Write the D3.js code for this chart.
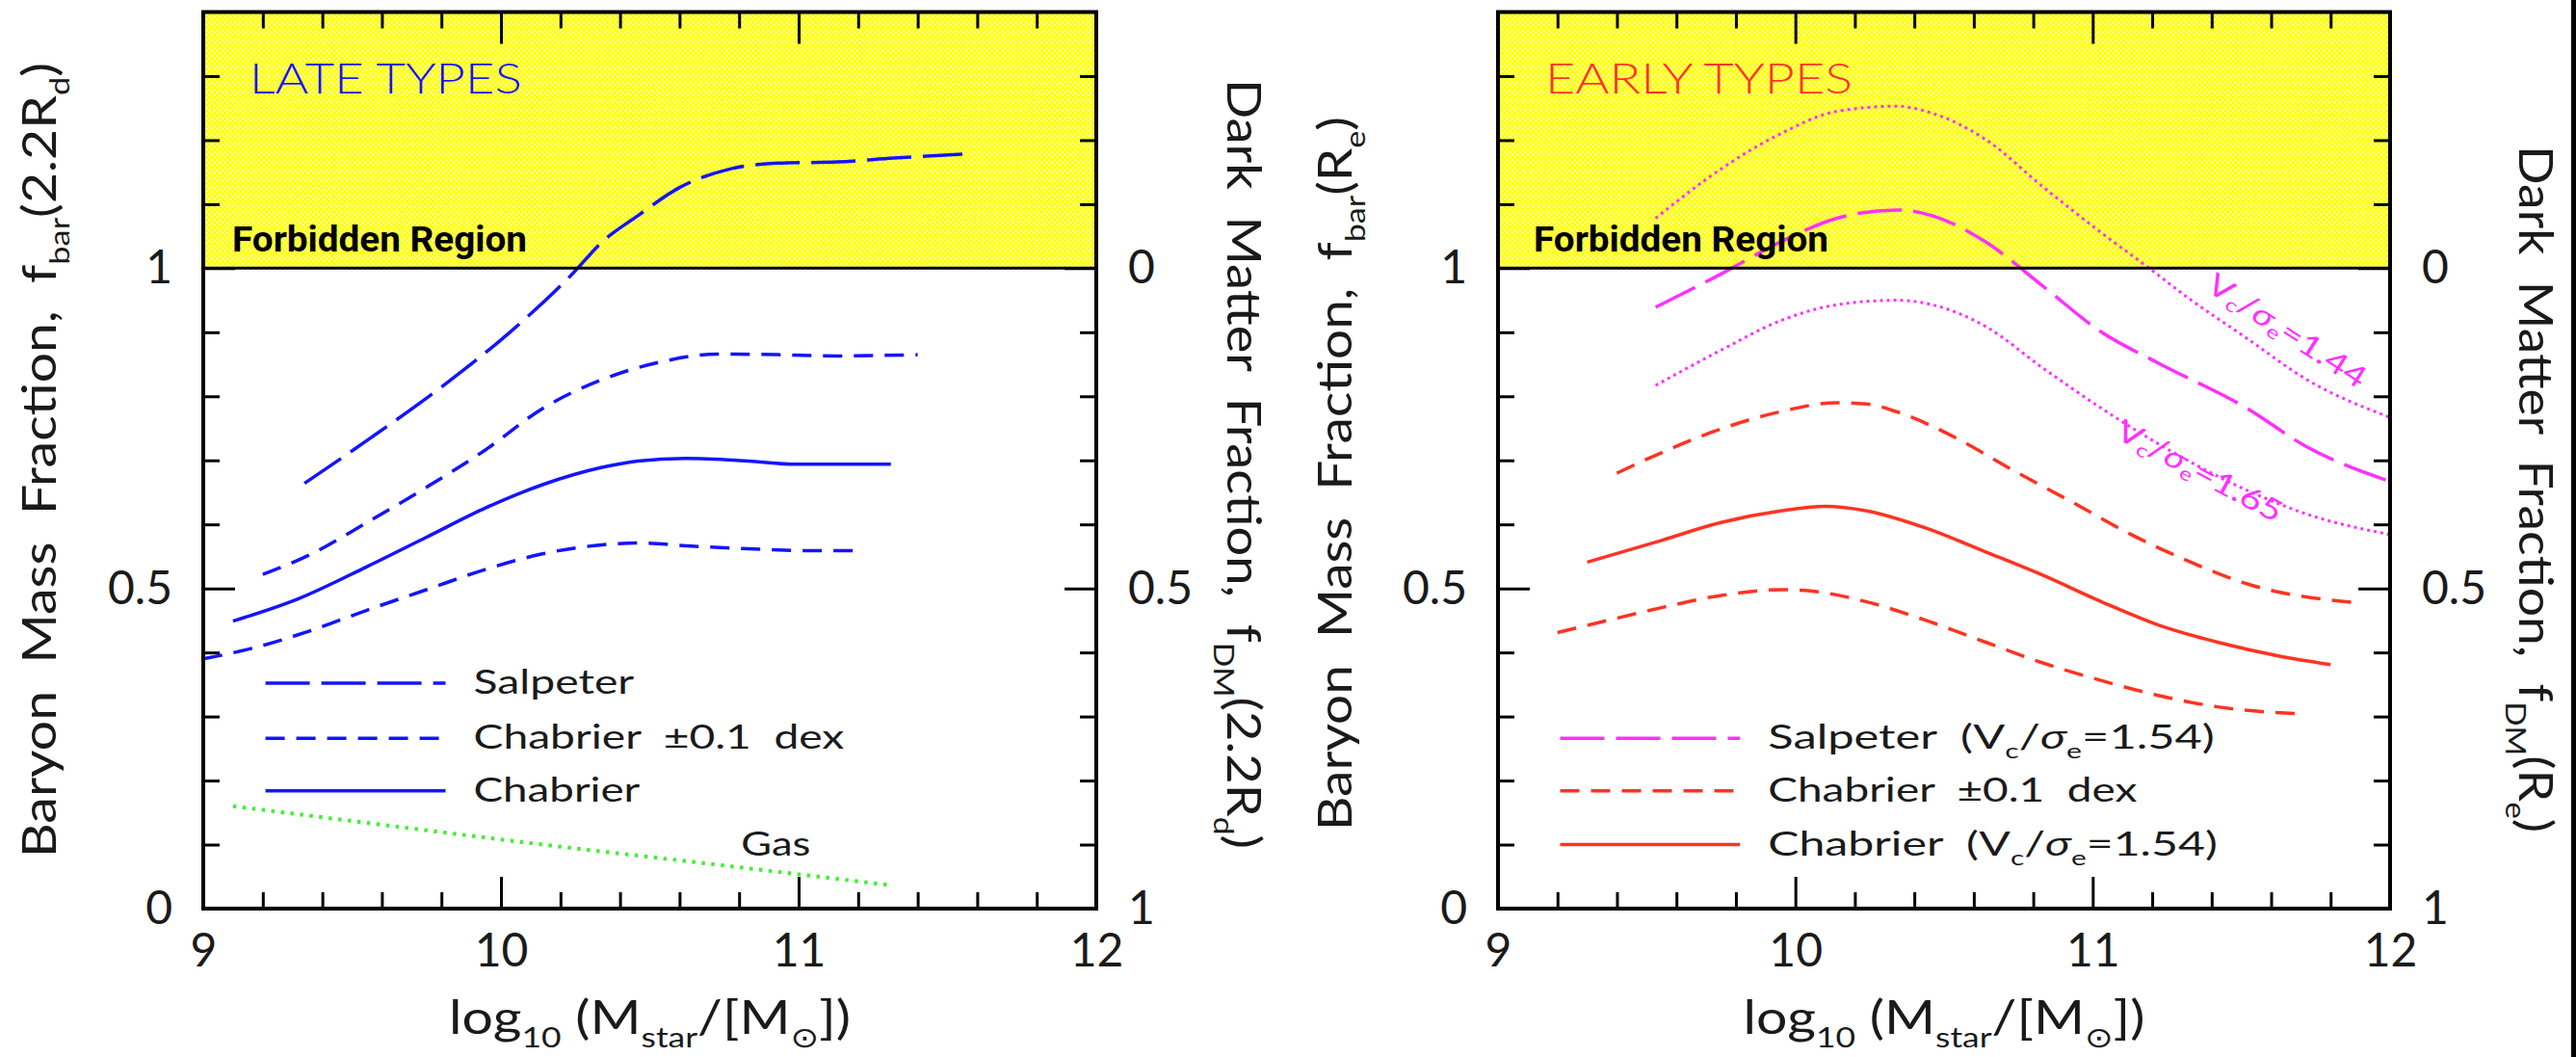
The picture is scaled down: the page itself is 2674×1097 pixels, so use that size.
<!DOCTYPE html>
<html><head><meta charset="utf-8">
<script src="https://cdn.jsdelivr.net/npm/d3@7"></script>
<style>
html,body{margin:0;padding:0;background:#fff;}
svg{display:block;}
</style></head><body>
<svg id="fig" width="2674" height="1097"></svg>
<script>
// ---------- axis ticks and labels ----------
const xTickMajor = [9, 10, 11, 12];
const xTickLabels = ["9", "10", "11", "12"];
const xTickMinor = [9.2, 9.4, 9.6, 9.8, 10.2, 10.4, 10.6, 10.8, 11.2, 11.4, 11.6, 11.8];
const yBarMajor = [0, 0.5, 1];
const yBarLabels = ["0", "0.5", "1"];
const yBarMinor = [0.1, 0.2, 0.3, 0.4, 0.6, 0.7, 0.8, 0.9, 1.1, 1.2, 1.3];
const yDMMajor = [1, 0.5, 0];
const yDMLabels = ["1", "0.5", "0"];

// ---------- late types: baryon fraction at 2.2 Rd vs log stellar mass ----------
const lateSalpeter = [[9.34,0.664],[9.55,0.731],[9.81,0.818],[10.03,0.900],[10.24,0.991],[10.34,1.041],[10.46,1.082],[10.6,1.126],[10.77,1.155],[10.93,1.164],[11.13,1.166],[11.32,1.172],[11.55,1.178]];
const lateChabrierHi = [[9.2,0.522],[9.36,0.553],[9.55,0.603],[9.75,0.658],[9.95,0.717],[10.14,0.781],[10.34,0.826],[10.54,0.854],[10.73,0.866],[10.93,0.865],[11.13,0.863],[11.4,0.865]];
const lateChabrier = [[9.1,0.449],[9.32,0.484],[9.55,0.534],[9.75,0.58],[9.95,0.626],[10.14,0.662],[10.34,0.689],[10.46,0.699],[10.62,0.703],[10.83,0.699],[10.99,0.694],[11.31,0.694]];
const lateChabrierLo = [[9.0,0.39],[9.16,0.406],[9.36,0.434],[9.55,0.466],[9.75,0.498],[9.95,0.530],[10.14,0.554],[10.34,0.568],[10.46,0.571],[10.64,0.566],[10.83,0.562],[11.03,0.559],[11.2,0.559]];
const lateGas = [[9.1,0.16],[9.6,0.131],[10.14,0.100],[10.7,0.07],[11.3,0.037]];

// ---------- early types: baryon fraction at Re vs log stellar mass ----------
const earlySalpeter144 = [[9.53,1.078],[9.75,1.155],[9.95,1.210],[10.14,1.245],[10.34,1.253],[10.46,1.242],[10.64,1.201],[10.83,1.128],[11.03,1.055],[11.19,1.0],[11.32,0.954],[11.52,0.890],[11.72,0.826],[12.0,0.767]];
const earlySalpeter = [[9.53,0.939],[9.75,0.991],[9.95,1.041],[10.14,1.078],[10.34,1.091],[10.46,1.082],[10.64,1.041],[10.83,0.973],[11.03,0.900],[11.22,0.852],[11.52,0.781],[11.72,0.721],[12.0,0.667]];
const earlySalpeter165 = [[9.53,0.817],[9.75,0.872],[9.95,0.918],[10.14,0.943],[10.34,0.950],[10.46,0.943],[10.64,0.909],[10.83,0.845],[11.03,0.781],[11.22,0.726],[11.52,0.653],[11.72,0.616],[12.0,0.584]];
const earlyChabrierHi = [[9.4,0.680],[9.55,0.712],[9.75,0.749],[9.95,0.776],[10.14,0.790],[10.24,0.788],[10.34,0.776],[10.54,0.735],[10.73,0.685],[10.93,0.635],[11.13,0.584],[11.32,0.543],[11.52,0.507],[11.9,0.477]];
const earlyChabrier = [[9.3,0.541],[9.55,0.575],[9.75,0.603],[9.95,0.621],[10.1,0.628],[10.24,0.621],[10.44,0.594],[10.64,0.557],[10.83,0.521],[11.03,0.479],[11.22,0.443],[11.42,0.416],[11.62,0.395],[11.8,0.381]];
const earlyChabrierLo = [[9.2,0.431],[9.36,0.449],[9.55,0.470],[9.75,0.489],[9.95,0.498],[10.05,0.496],[10.24,0.479],[10.44,0.450],[10.64,0.416],[10.83,0.384],[11.03,0.356],[11.22,0.333],[11.42,0.315],[11.7,0.304]];

// ---------- look ----------
const FONT = "Lato, 'Noto Sans', 'DejaVu Sans', sans-serif";
const WEIGHT = 400;
const INK = "#1a1a1a";
const BLUE = "#1414ff", RED = "#ff3322", MAG = "#ff30ff", GREEN = "#40f030";
const DASH = { solid: null, longDash: "46,12", shortDash: "20,12", gasDot: "3.5,6.5", fineDot: "3,4" };

const svg = d3.select("#fig");
svg.append("rect").attr("width", 2674).attr("height", 1097).attr("fill", "#fff");
svg.append("rect").attr("x", 2669).attr("y", 0).attr("width", 5).attr("height", 1097).attr("fill", "#000");

// halftone yellow fill for the forbidden (f_bar > 1) zone
const defs = svg.append("defs");
const pat = defs.append("pattern").attr("id", "forbid").attr("patternUnits", "userSpaceOnUse")
  .attr("width", 5.4).attr("height", 5.4);
pat.append("rect").attr("width", 5.4).attr("height", 5.4).attr("fill", "#ffff00");
pat.append("circle").attr("cx", 1.35).attr("cy", 1.35).attr("r", 1.15).attr("fill", "#fff").attr("opacity", 0.85);
pat.append("circle").attr("cx", 4.05).attr("cy", 4.05).attr("r", 1.15).attr("fill", "#fff").attr("opacity", 0.85);

// text with subscripts / italic runs
function rich(sel, parts, fs) {
  let shift = 0;
  parts.forEach(([s, kind]) => {
    const t = sel.append("tspan").text(s);
    const target = kind === "sub" ? fs * 0.3 : 0;
    if (target !== shift) { t.attr("dy", target - shift); shift = target; }
    if (kind === "sub") t.attr("font-size", fs * 0.62);
    if (kind === "it") t.attr("font-style", "italic");
  });
  return sel;
}

const xTitle = [["log", ""], ["10", "sub"], [" (M", ""], ["star", "sub"], ["/[M", ""], ["\u2299", "sub"], ["])", ""]];
const vcParts = (pre, val) => [[pre + "V", ""], ["c", "sub"], ["/", ""], ["\u03c3", "it"], ["e", "sub"], ["=" + val, ""]];

const panels = [
  {
    x0: 211, x1: 1138,
    tag: "LATE TYPES", tagColor: BLUE, tagLen: 283, tagX: 259, forbX: 241,
    leftTitle: [["Baryon  Mass  Fraction,  f", ""], ["bar", "sub"], ["(2.2R", ""], ["d", "sub"], [")", ""]],
    leftTitlePos: [58, 890], leftTitleLen: 825,
    rightTitle: [["Dark  Matter  Fraction,  f", ""], ["DM", "sub"], ["(2.2R", ""], ["d", "sub"], [")", ""]],
    rightTitlePos: [1274, 82], rightTitleLen: 799,
    series: [
      { data: lateSalpeter, color: BLUE, dash: "longDash", w: 3.5 },
      { data: lateChabrierHi, color: BLUE, dash: "shortDash", w: 3.5 },
      { data: lateChabrierLo, color: BLUE, dash: "shortDash", w: 3.5 },
      { data: lateChabrier, color: BLUE, dash: "solid", w: 3.5 },
      { data: lateGas, color: GREEN, dash: "gasDot", w: 4 }
    ],
    legend: [
      { parts: [["Salpeter", ""]], color: BLUE, dash: "longDash", f: 0.352, len: 166.6 },
      { parts: [["Chabrier  \u00b10.1  dex", ""]], color: BLUE, dash: "shortDash", f: 0.266, len: 384.8 },
      { parts: [["Chabrier", ""]], color: BLUE, dash: "solid", f: 0.184, len: 172.7 }
    ],
    notes: [{ parts: [["Gas", ""]], at: [10.807, 0.0834], angle: 0, color: INK, fs: 34, anchor: "start", base: "alphabetic", len: 72 }]
  },
  {
    x0: 1555, x1: 2481,
    tag: "EARLY TYPES", tagColor: RED, tagLen: 319, tagX: 1604, forbX: 1592,
    leftTitle: [["Baryon  Mass  Fraction,  f", ""], ["bar", "sub"], ["(R", ""], ["e", "sub"], [")", ""]],
    leftTitlePos: [1403, 862], leftTitleLen: 741,
    rightTitle: [["Dark  Matter  Fraction,  f", ""], ["DM", "sub"], ["(R", ""], ["e", "sub"], [")", ""]],
    rightTitlePos: [2615, 151], rightTitleLen: 713,
    series: [
      { data: earlySalpeter144, color: MAG, dash: "fineDot", w: 3 },
      { data: earlySalpeter, color: MAG, dash: "longDash", w: 3.5 },
      { data: earlySalpeter165, color: MAG, dash: "fineDot", w: 3 },
      { data: earlyChabrierHi, color: RED, dash: "shortDash", w: 3.5 },
      { data: earlyChabrierLo, color: RED, dash: "shortDash", w: 3.5 },
      { data: earlyChabrier, color: RED, dash: "solid", w: 3.5 }
    ],
    legend: [
      { parts: [["Salpeter  ", ""], ...vcParts("(", "1.54)")], color: MAG, dash: "longDash", f: 0.266, len: 463.6 },
      { parts: [["Chabrier  \u00b10.1  dex", ""]], color: RED, dash: "shortDash", f: 0.184, len: 383 },
      { parts: [["Chabrier  ", ""], ...vcParts("(", "1.54)")], color: RED, dash: "solid", f: 0.100, len: 466.5 }
    ],
    notes: [
      { parts: vcParts("", "1.44"), at: [11.656, 0.904], angle: 33, color: MAG, fs: 31, anchor: "middle", base: "central", len: 190 },
      { parts: vcParts("", "1.65"), at: [11.362, 0.685], angle: 28, color: MAG, fs: 31, anchor: "middle", base: "central", len: 190 }
    ]
  }
];

panels.forEach(p => {
  const x = d3.scaleLinear().domain([9, 12]).range([p.x0, p.x1]);
  const y = d3.scaleLinear().domain([0, 1.4]).range([943, 12.5]);
  const yDM = d3.scaleLinear().domain([1, -0.4]).range([943, 12.5]);
  const g = svg.append("g");

  // forbidden zone
  g.append("rect").attr("x", x(9)).attr("y", y(1.4))
    .attr("width", x(12) - x(9)).attr("height", y(1) - y(1.4)).attr("fill", "url(#forbid)");

  // curves
  const line = d3.line().x(d => x(d[0])).y(d => y(d[1])).curve(d3.curveMonotoneX);
  p.series.forEach(s => {
    g.append("path").datum(s.data).attr("d", line).attr("fill", "none")
      .attr("stroke", s.color).attr("stroke-width", s.w)
      .attr("stroke-dasharray", DASH[s.dash]).attr("stroke-linecap", "butt");
  });

  // legend
  const lx0 = 9.209, lx1 = 9.814, textGap = 0.094;
  p.legend.forEach(L => {
    g.append("path").datum([[lx0, L.f], [lx1, L.f]]).attr("d", d3.line().x(d => x(d[0])).y(d => y(d[1])))
      .attr("fill", "none").attr("stroke", L.color).attr("stroke-width", 3.5)
      .attr("stroke-dasharray", DASH[L.dash]);
    const t = g.append("text").attr("x", x(lx1 + textGap)).attr("y", y(L.f) + 11)
      .attr("font-family", FONT).attr("font-weight", WEIGHT).attr("font-size", 34).attr("fill", INK)
      .attr("textLength", L.len).attr("lengthAdjust", "spacingAndGlyphs")
      .style("white-space", "pre");
    rich(t, L.parts, 34);
  });

  // curve notes
  p.notes.forEach(n => {
    const t = g.append("text")
      .attr("transform", `translate(${x(n.at[0])},${y(n.at[1])}) rotate(${n.angle})`)
      .attr("text-anchor", n.anchor).attr("dominant-baseline", n.base)
      .attr("font-family", FONT).attr("font-weight", WEIGHT)
      .attr("font-size", n.fs).attr("fill", n.color)
      .attr("textLength", n.len).attr("lengthAdjust", "spacingAndGlyphs");
    rich(t, n.parts, n.fs);
  });

  // panel tags
  g.append("text").attr("x", p.tagX).attr("y", 97).text(p.tag)
    .attr("font-family", FONT).attr("font-weight", 300).attr("font-size", 44)
    .attr("fill", p.tagColor).attr("textLength", p.tagLen).attr("lengthAdjust", "spacingAndGlyphs");
  g.append("text").attr("x", p.forbX).attr("y", 260.5).text("Forbidden Region")
    .attr("font-family", "Roboto, 'DejaVu Sans', sans-serif").attr("font-weight", 700)
    .attr("font-size", 37).attr("fill", "#000")
    .attr("textLength", 306).attr("lengthAdjust", "spacingAndGlyphs");

  // axes
  const styleAxis = a => {
    a.select(".domain").remove();
    a.selectAll("line").attr("stroke", "#000").attr("stroke-width", 3);
    a.selectAll("text").attr("font-family", FONT).attr("font-weight", WEIGHT)
      .attr("font-size", 48).attr("fill", INK);
  };
  const fmt = (vals, labels) => d => labels[vals.indexOf(d)];
  [
    [d3.axisBottom(x).tickValues(xTickMinor).tickSize(-17).tickFormat(""), `translate(0,${y(0)})`],
    [d3.axisBottom(x).tickValues(xTickMajor).tickSize(-33).tickPadding(26).tickFormat(fmt(xTickMajor, xTickLabels)), `translate(0,${y(0)})`],
    [d3.axisTop(x).tickValues(xTickMinor).tickSize(-17).tickFormat(""), `translate(0,${y(1.4)})`],
    [d3.axisTop(x).tickValues(xTickMajor).tickSize(-33).tickFormat(""), `translate(0,${y(1.4)})`],
    [d3.axisLeft(y).tickValues(yBarMinor).tickSize(-17).tickFormat(""), `translate(${x(9)},0)`],
    [d3.axisLeft(y).tickValues(yBarMajor).tickSize(-33).tickPadding(32).tickFormat(fmt(yBarMajor, yBarLabels)), `translate(${x(9)},0)`],
    [d3.axisRight(yDM).tickValues(yBarMinor.map(v => +(1 - v).toFixed(2))).tickSize(-17).tickFormat(""), `translate(${x(12)},0)`],
    [d3.axisRight(yDM).tickValues(yDMMajor).tickSize(-33).tickPadding(33).tickFormat(fmt(yDMMajor, yDMLabels)), `translate(${x(12)},0)`]
  ].forEach(([ax, tr]) => {
    const a = g.append("g").attr("transform", tr).call(ax.tickSizeOuter(0));
    styleAxis(a);
  });

  // frame and the f_bar = 1 boundary
  g.append("line").attr("x1", x(9)).attr("x2", x(12)).attr("y1", y(1)).attr("y2", y(1))
    .attr("stroke", "#000").attr("stroke-width", 3);
  g.append("rect").attr("x", x(9)).attr("y", y(1.4)).attr("width", x(12) - x(9)).attr("height", y(0) - y(1.4))
    .attr("fill", "none").attr("stroke", "#000").attr("stroke-width", 4);

  // axis titles
  const xt = g.append("text").attr("x", (x(9) + x(12)) / 2).attr("y", 1073).attr("text-anchor", "middle")
    .attr("font-family", FONT).attr("font-weight", WEIGHT).attr("font-size", 48).attr("fill", INK)
    .attr("textLength", 417).attr("lengthAdjust", "spacingAndGlyphs").style("white-space", "pre");
  rich(xt, xTitle, 48);

  const lt = g.append("text").attr("transform", `translate(${p.leftTitlePos[0]},${p.leftTitlePos[1]}) rotate(-90)`)
    .attr("font-family", FONT).attr("font-weight", WEIGHT).attr("font-size", 48).attr("fill", INK)
    .attr("textLength", p.leftTitleLen).attr("lengthAdjust", "spacingAndGlyphs").style("white-space", "pre");
  rich(lt, p.leftTitle, 48);

  const rt = g.append("text").attr("transform", `translate(${p.rightTitlePos[0]},${p.rightTitlePos[1]}) rotate(90)`)
    .attr("font-family", FONT).attr("font-weight", WEIGHT).attr("font-size", 48).attr("fill", INK)
    .attr("textLength", p.rightTitleLen).attr("lengthAdjust", "spacingAndGlyphs").style("white-space", "pre");
  rich(rt, p.rightTitle, 48);
});
</script>
</body></html>
